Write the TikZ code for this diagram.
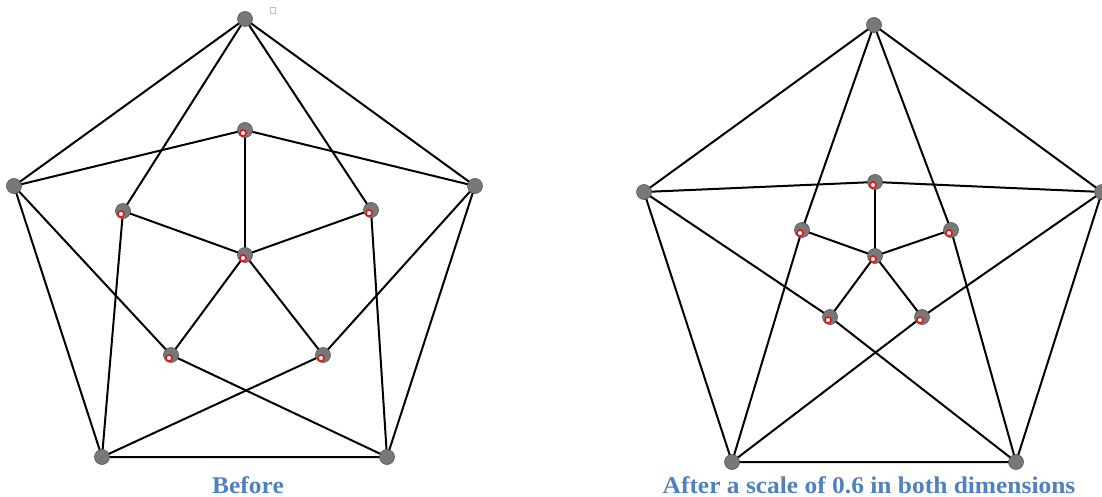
\documentclass[tikz,border=0pt]{standalone}
\usepackage{fontspec}
\setmainfont{Liberation Serif}
\definecolor{capblue}{RGB}{79,129,189}
\definecolor{nodegray}{RGB}{120,120,120}
\definecolor{nodeedge}{RGB}{85,85,85}
\definecolor{markred}{RGB}{230,20,20}
\begin{document}
\begin{tikzpicture}[x=1pt,y=-1pt,
  vtx/.style={circle,fill=nodegray,draw=nodeedge,line width=0.6pt,minimum size=15pt,inner sep=0pt},
  edge/.style={line width=2pt,black},
  mk/.style={circle,fill=white,draw=markred,line width=1.6pt,minimum size=6pt,inner sep=0pt},
  captext/.style={font=\bfseries\fontsize{24}{28}\selectfont,text=capblue,xscale=1.06}]
\useasboundingbox (0,0) rectangle (1102,497);
% ---------- left graph ----------
\coordinate (LT) at (245,19);
\coordinate (LL) at (14,186);
\coordinate (LR) at (475,186);
\coordinate (LBL) at (102,457);
\coordinate (LBR) at (387,457);
\coordinate (LMt) at (245,130);
\coordinate (LMl) at (123,211);
\coordinate (LMr) at (371,210);
\coordinate (LMbl) at (171,355);
\coordinate (LMbr) at (323,355);
\coordinate (LC) at (245,255);
% ---------- right graph ----------
\coordinate (RT) at (874,25);
\coordinate (RL) at (644,192);
\coordinate (RR) at (1102,192);
\coordinate (RBL) at (732,462);
\coordinate (RBR) at (1016,462);
\coordinate (RMt) at (875,182);
\coordinate (RMl) at (802,230);
\coordinate (RMr) at (951,230);
\coordinate (RMbl) at (830,317);
\coordinate (RMbr) at (922,317);
\coordinate (RC) at (875,256);
\foreach \p in {L,R}{
  \draw[edge] (\p T) -- (\p L) -- (\p BL) -- (\p BR) -- (\p R) -- cycle;
  \draw[edge] (\p T) -- (\p Ml) -- (\p BL);
  \draw[edge] (\p T) -- (\p Mr) -- (\p BR);
  \draw[edge] (\p L) -- (\p Mt) -- (\p R);
  \draw[edge] (\p L) -- (\p Mbl) -- (\p BR);
  \draw[edge] (\p R) -- (\p Mbr) -- (\p BL);
  \foreach \m in {Mt,Ml,Mr,Mbl,Mbr}{\draw[edge] (\p C) -- (\p\m);}
  \foreach \v in {T,L,R,BL,BR,Mt,Ml,Mr,Mbl,Mbr,C}{\node[vtx] (n\p\v) at (\p\v) {};}
  \foreach \v in {Mt,Ml,Mr,Mbl,Mbr,C}{\node[mk] (k\p\v) at ([shift={(-2,3)}]\p\v) {};}
}
% tiny box mark
\draw[gray!50,line width=0.6pt] (270,7) rectangle (275,13);
% captions
\node[captext] (capL) at (248,485) {Before};
\node[captext] (capR) at (869,485) {After a scale of 0.6 in both dimensions};
\end{tikzpicture}
\end{document}
